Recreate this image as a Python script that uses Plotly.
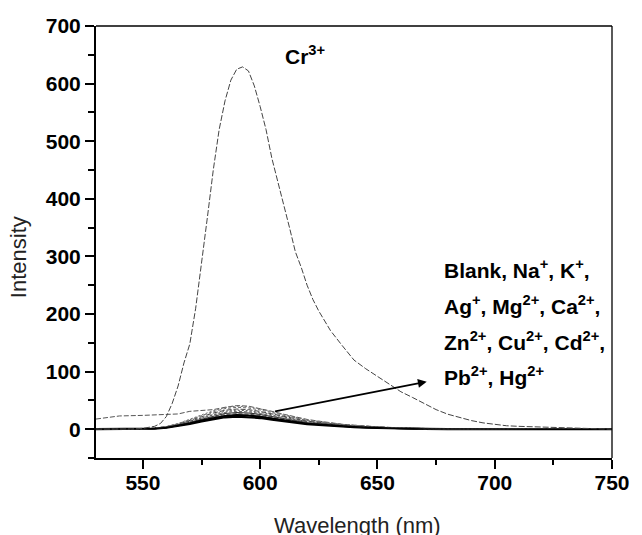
import plotly.graph_objects as go

# Cr3+ emission spectrum
cr_wavelength = [530, 540, 545, 550, 552.5, 555, 557.5, 560, 562.5, 565, 567.5, 570, 572.5,
                 575, 577.5, 580, 582.5, 585, 587.5, 590, 592.5, 595, 597.5, 600, 602.5,
                 605, 607.5, 610, 612.5, 615, 617.5, 620, 622.5, 625, 630, 635, 640, 645,
                 650, 655, 660, 665, 670, 675, 680, 685, 690, 695, 700, 705, 710, 720,
                 730, 740, 750]
cr_intensity = [0, 0, 0.5, 1.5, 3, 5, 10, 22, 45, 75, 115, 148, 210,
                285, 368, 450, 520, 570, 606, 625, 629, 622, 596, 560, 520,
                470, 430, 395, 350, 308, 281, 250, 225, 205, 171, 145, 120, 105,
                92, 78, 65, 55, 44, 34, 26, 20, 15, 11, 8, 6, 5, 4,
                2, 1, 0]

# Other ions / blank on a shared wavelength grid
wavelength = [530, 540, 550, 555, 560, 565, 570, 575, 580, 585, 590, 595, 600, 605, 610,
              615, 620, 625, 630, 635, 640, 645, 650, 660, 670, 680, 690, 700, 720, 750]
blank = [0, 0, 0.4, 1.1, 2.6, 5.5, 9.2, 13.6, 17.6, 20.7, 22.0, 21.3, 19.4, 16.7, 13.9,
         11.0, 8.8, 7.5, 5.9, 4.6, 3.7, 2.9, 2.2, 1.1, 0.6, 0.2, 0.1, 0, 0, 0]
na = [0, 0, 0.5, 1.2, 2.9, 6.0, 10.1, 14.9, 19.2, 22.6, 24.0, 23.3, 21.1, 18.2, 15.1,
      12.0, 9.6, 8.2, 6.5, 5.0, 4.1, 3.1, 2.4, 1.2, 0.6, 0.2, 0.1, 0, 0, 0]
k = [0, 0, 0.5, 1.4, 3.2, 6.8, 11.3, 16.7, 21.6, 25.4, 27.0, 26.2, 23.8, 20.5, 17.0,
     13.5, 10.8, 9.2, 7.3, 5.7, 4.6, 3.5, 2.7, 1.4, 0.7, 0.3, 0.1, 0, 0, 0]
ag = [0, 0, 0.6, 1.5, 3.5, 7.3, 12.2, 18.0, 23.2, 27.3, 29.0, 28.1, 25.5, 22.0, 18.3,
      14.5, 11.6, 9.9, 7.8, 6.1, 4.9, 3.8, 2.9, 1.5, 0.7, 0.3, 0.1, 0, 0, 0]
mg = [0, 0, 0.6, 1.6, 3.7, 7.8, 13.0, 19.2, 24.8, 29.1, 31.0, 30.1, 27.3, 23.6, 19.5,
      15.5, 12.4, 10.5, 8.4, 6.5, 5.3, 4.0, 3.1, 1.6, 0.8, 0.3, 0.2, 0, 0, 0]
ca = [0, 0, 0.7, 1.7, 4.0, 8.3, 13.9, 20.5, 26.4, 31.0, 33.0, 32.0, 29.0, 25.1, 20.8,
      16.5, 13.2, 11.2, 8.9, 6.9, 5.6, 4.3, 3.3, 1.7, 0.8, 0.3, 0.2, 0, 0, 0]
zn = [0, 0, 0.7, 1.8, 4.2, 8.8, 14.7, 21.7, 28.0, 32.9, 35.0, 34.0, 30.8, 26.6, 22.1,
      17.5, 14.0, 11.9, 9.5, 7.4, 6.0, 4.6, 3.5, 1.8, 0.9, 0.4, 0.2, 0, 0, 0]
cu = [17.6, 23, 24, 24.5, 25, 26.5, 31, 32, 34, 38, 41, 40, 36, 31, 26,
      21, 17, 14, 11, 8.6, 7, 5.4, 4.2, 2.2, 1.1, 0.5, 0.3, 0.2, 0.1, 0]
cd = [0, 0, 0.8, 1.9, 4.6, 9.5, 16.0, 23.6, 30.4, 35.7, 38.0, 36.9, 33.4, 28.9, 23.9,
      19.0, 15.2, 12.9, 10.3, 8.0, 6.5, 4.9, 3.8, 1.9, 1.0, 0.4, 0.2, 0, 0, 0]
pb = [0, 0, 0.8, 2.0, 4.8, 10.0, 16.8, 24.8, 32.0, 37.6, 40.0, 38.8, 35.2, 30.4, 25.2,
      20.0, 16.0, 13.6, 10.8, 8.4, 6.8, 5.2, 4.0, 2.0, 1.0, 0.4, 0.2, 0, 0, 0]
hg = [0, 0, 0.5, 1.3, 3.0, 6.3, 10.5, 15.5, 20.0, 23.5, 25.0, 24.3, 22.0, 19.0, 15.8,
      12.5, 10.0, 8.5, 6.8, 5.3, 4.3, 3.3, 2.5, 1.3, 0.6, 0.3, 0.1, 0, 0, 0]

x_ticks = [550, 600, 650, 700, 750]
y_ticks = [0, 100, 200, 300, 400, 500, 600, 700]

ion_lines = [
    ("Blank", blank, dict(color="black", width=2.2)),
    ("Na+", na, dict(color="black", width=1.6)),
    ("K+", k, dict(color="#555", width=1, dash="4px,2px")),
    ("Ag+", ag, dict(color="#333", width=1.2)),
    ("Mg2+", mg, dict(color="#666", width=1, dash="3px,2px")),
    ("Ca2+", ca, dict(color="#555", width=1, dash="2px,2px")),
    ("Zn2+", zn, dict(color="#444", width=1, dash="5px,2px")),
    ("Cu2+", cu, dict(color="#555", width=1, dash="5px,2px")),
    ("Cd2+", cd, dict(color="#666", width=1, dash="3px,2px")),
    ("Pb2+", pb, dict(color="#777", width=1, dash="2px,2px")),
    ("Hg2+", hg, dict(color="black", width=1.4)),
]

fig = go.Figure()
for name, vals, line in ion_lines:
    fig.add_trace(go.Scatter(x=wavelength, y=vals, mode="lines", name=name, line=line))

fig.add_trace(go.Scatter(x=cr_wavelength, y=cr_intensity, mode="lines", name="Cr3+",
                         line=dict(color="#444", width=1, dash="6px,2px")))

label_font = dict(family="Liberation Sans, Arial", size=21, color="black", weight="bold")

fig.add_annotation(x=609.9, y=649.7, xref="x", yref="y", text="Cr<sup>3+</sup>",
                   showarrow=False, xanchor="left", yanchor="middle", font=label_font)

ion_rows = ["Blank, Na<sup>+</sup>, K<sup>+</sup>,",
            "Ag<sup>+</sup>, Mg<sup>2+</sup>, Ca<sup>2+</sup>,",
            "Zn<sup>2+</sup>, Cu<sup>2+</sup>, Cd<sup>2+</sup>,",
            "Pb<sup>2+</sup>, Hg<sup>2+</sup>"]
row_y = [278, 216, 154, 92]
for txt, yy in zip(ion_rows, row_y):
    fig.add_annotation(x=677.5, y=yy, xref="x", yref="y", text=txt, showarrow=False,
                       xanchor="left", yanchor="middle", align="left", font=label_font)

# arrow pointing from the cluster of weak spectra to the ion list
fig.add_annotation(x=671, y=82.5, ax=605.7, ay=30.4, xref="x", yref="y",
                   axref="x", ayref="y", text="", showarrow=True,
                   arrowhead=2, arrowsize=1.1, arrowwidth=1.6, arrowcolor="black")

title_font = dict(family="Liberation Sans, Arial", size=22, color="#222")
fig.add_annotation(x=0.507, y=-0.157, xref="paper", yref="paper", text="Wavelength (nm)",
                   showarrow=False, xanchor="center", yanchor="middle", font=title_font)
fig.add_annotation(x=-0.15, y=0.464, xref="paper", yref="paper", text="Intensity",
                   showarrow=False, textangle=-90, xanchor="center", yanchor="middle",
                   font=title_font)

tick_font = dict(family="Liberation Sans, Arial", size=21, color="black", weight="bold")

fig.update_xaxes(range=[530, 750], tickmode="array", tickvals=x_ticks,
                 ticks="outside", ticklen=9, tickwidth=1.5, tickcolor="black",
                 ticklabelstandoff=-4,
                 minor=dict(tickmode="linear", tick0=550, dtick=25, ticks="outside",
                            ticklen=5, tickwidth=1.5, tickcolor="black"),
                 showline=True, linewidth=2, linecolor="black", showgrid=False,
                 zeroline=False, tickfont=tick_font)
fig.update_yaxes(range=[-50, 700], tickmode="array", tickvals=y_ticks,
                 ticks="outside", ticklen=9, tickwidth=1.5, tickcolor="black",
                 minor=dict(tickmode="linear", tick0=50, dtick=100, ticks="outside",
                            ticklen=6, tickwidth=1.5, tickcolor="black"),
                 showline=True, linewidth=2, linecolor="black", showgrid=False,
                 zeroline=False, tickfont=tick_font)

# top and right frame lines
fig.add_shape(type="line", xref="paper", yref="paper", x0=0, x1=1, y0=1, y1=1,
              line=dict(color="black", width=1.5))
fig.add_shape(type="line", xref="paper", yref="paper", x0=1, x1=1, y0=0, y1=1,
              line=dict(color="black", width=1.3))

fig.update_layout(width=642, height=535, margin=dict(l=96, r=21, t=26, b=77),
                  plot_bgcolor="white", paper_bgcolor="white", showlegend=False)

fig.write_html("out.html")
